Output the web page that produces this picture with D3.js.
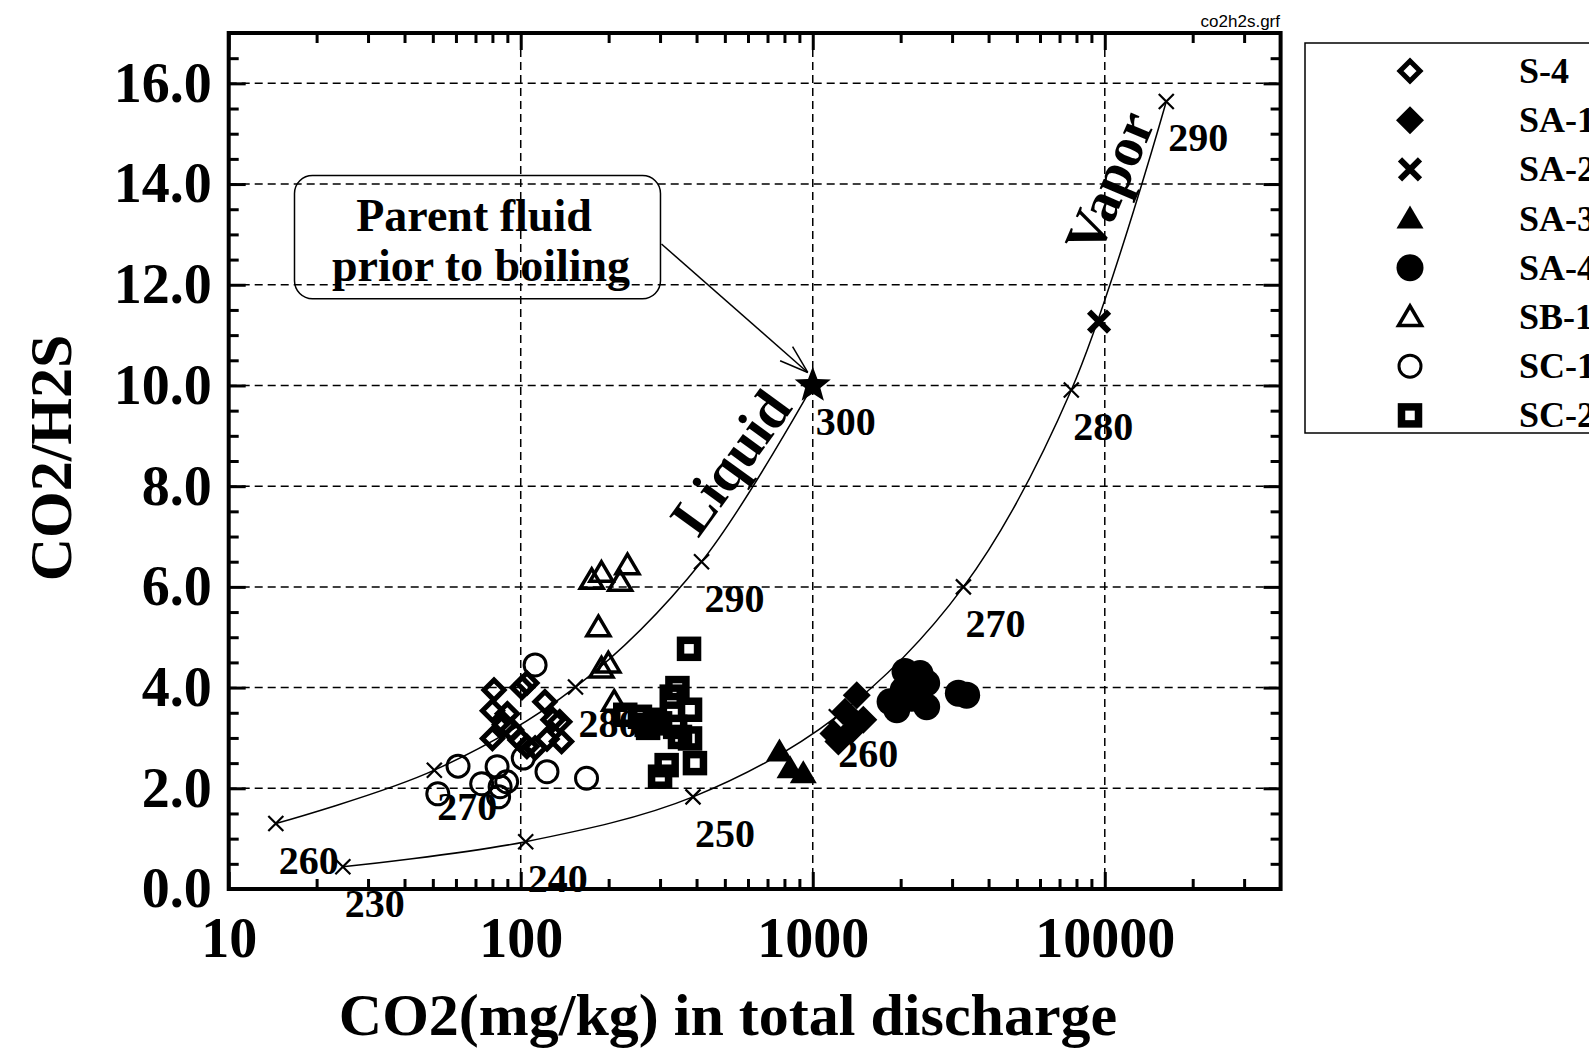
<!DOCTYPE html>
<html>
<head>
<meta charset="utf-8">
<script src="https://cdn.jsdelivr.net/npm/d3@7"></script>
<style>
body { margin: 0; background: #fff; }
svg text { font-family: "Liberation Serif", "Times New Roman", serif; font-weight: bold; fill: #000; }
</style>
</head>
<body>
<svg id="chart" width="1589" height="1048"></svg>
<script>
// sample series: CO2 (mg/kg) and CO2/H2S
var s4Co2 = [81, 80, 90, 80, 88, 99.5, 105, 121, 129, 136, 123, 138, 105, 101, 93, 112];
var s4Ratio = [3.95, 3.54, 3.48, 2.99, 3.26, 2.96, 2.83, 3.72, 3.36, 3.32, 2.98, 2.93, 4.09, 4.0, 3.16, 2.80];
var sa1Co2 = [1415, 1290, 1490, 1177, 1224, 1360];
var sa1Ratio = [3.85, 3.52, 3.36, 3.09, 2.93, 3.16];
var sa2Co2 = [9560];
var sa2Ratio = [11.27];
var sa3Co2 = [769, 836, 928];
var sa3Ratio = [2.73, 2.40, 2.30];
var sa4Co2 = [2070, 2330, 2455, 2040, 1840, 1940, 2455, 3152, 3365, 2183];
var sa4Ratio = [4.32, 4.28, 4.09, 3.95, 3.72, 3.56, 3.62, 3.89, 3.85, 3.79];
var sb1Co2 = [175, 189, 219, 232, 184.5, 189, 199.5, 209];
var sb1Ratio = [6.14, 6.28, 6.10, 6.43, 5.20, 4.38, 4.48, 3.72];
var sc1Co2 = [112, 61, 52, 83, 73.5, 89.5, 84, 102, 123, 168, 85];
var sc1Ratio = [4.45, 2.44, 1.89, 2.43, 2.09, 2.13, 1.83, 2.60, 2.33, 2.20, 2.03];
var sc2Co2 = [377, 344, 380, 338, 300, 270, 380, 316, 300, 395, 351, 329, 228, 256, 288, 273];
var sc2Ratio = [4.77, 3.99, 3.56, 3.22, 3.29, 3.26, 2.99, 2.46, 2.23, 2.50, 3.02, 3.82, 3.46, 3.42, 3.36, 3.20];

// boiling model curves (temperature marks)
var liquidTemp = [260, 270, 280, 290, 300];
var liquidCo2 = [14.5, 50.6, 154, 416, 1000];
var liquidRatio = [1.30, 2.36, 4.01, 6.50, 10.0];
var vaporTemp = [230, 240, 250, 260, 270, 280, 290];
var vaporCo2 = [24.6, 104, 389, 1204, 3280, 7680, 16240];
var vaporRatio = [0.44, 0.94, 1.83, 3.42, 6.00, 9.91, 15.64];

// parent fluid
var parentCo2 = 1000;
var parentRatio = 10.0;

var legendNames = ["S-4", "SA-1", "SA-2", "SA-3", "SA-4", "SB-1", "SC-1", "SC-2"];
var xTickValues = [10, 100, 1000, 10000];
var yTickValues = [0, 2, 4, 6, 8, 10, 12, 14, 16];

var svg = d3.select("#chart");

var x = d3.scaleLog().domain([10, 40000]).range([228.7, 1280.6]);
var y = d3.scaleLinear().domain([0, 17]).range([889, 33]);

// grid lines
svg.append("g").selectAll("line")
    .data(yTickValues.slice(1))
    .enter().append("line")
    .attr("x1", x(10)).attr("x2", x(40000))
    .attr("y1", d => y(d)).attr("y2", d => y(d))
    .attr("stroke", "#000").attr("stroke-width", 1.5)
    .attr("stroke-dasharray", "8,5");
svg.append("g").selectAll("line")
    .data(xTickValues.slice(1))
    .enter().append("line")
    .attr("x1", d => x(d)).attr("x2", d => x(d))
    .attr("y1", y(0)).attr("y2", y(17))
    .attr("stroke", "#000").attr("stroke-width", 1.5)
    .attr("stroke-dasharray", "8,5");

// model curves
var line = d3.line().curve(d3.curveCatmullRom.alpha(0.5));
function curvePoints(xs, ys) {
    return xs.map((v, i) => [x(v), y(ys[i])]);
}
svg.append("path")
    .attr("d", line(curvePoints(liquidCo2, liquidRatio)))
    .attr("fill", "none").attr("stroke", "#000").attr("stroke-width", 1.5);
svg.append("path")
    .attr("d", line(curvePoints(vaporCo2, vaporRatio)))
    .attr("fill", "none").attr("stroke", "#000").attr("stroke-width", 1.5);

function smallCross(g, cx, cy) {
    g.append("path")
        .attr("d", "M" + (cx - 7.5) + "," + (cy - 7.5) + "L" + (cx + 7.5) + "," + (cy + 7.5) +
                   "M" + (cx - 7.5) + "," + (cy + 7.5) + "L" + (cx + 7.5) + "," + (cy - 7.5))
        .attr("stroke", "#000").attr("stroke-width", 2.2).attr("fill", "none");
}

var marks = svg.append("g");
liquidTemp.forEach(function(t, i) {
    var px = x(liquidCo2[i]), py = y(liquidRatio[i]);
    if (t !== 300) smallCross(marks, px, py);
    marks.append("text").attr("x", px + 3).attr("y", py + 50)
        .attr("font-size", 40).text(t);
});
vaporTemp.forEach(function(t, i) {
    var px = x(vaporCo2[i]), py = y(vaporRatio[i]);
    smallCross(marks, px, py);
    marks.append("text").attr("x", px + 2).attr("y", py + 50)
        .attr("font-size", 40).text(t);
});

// curve names
svg.append("text")
    .attr("transform", "translate(730,462) rotate(-54)")
    .attr("text-anchor", "middle").attr("dy", "0.35em")
    .attr("font-size", 56).text("Liquid");
svg.append("text")
    .attr("transform", "translate(1109,182) rotate(-67)")
    .attr("text-anchor", "middle").attr("dy", "0.35em")
    .attr("font-size", 56).text("Vapor");

// annotation box
var boxX0 = x(16.8), boxX1 = x(301), boxY0 = y(14.17), boxY1 = y(11.72);
svg.append("rect")
    .attr("x", boxX0).attr("y", boxY0)
    .attr("width", boxX1 - boxX0).attr("height", boxY1 - boxY0)
    .attr("rx", 18).attr("ry", 18)
    .attr("fill", "none").attr("stroke", "#000").attr("stroke-width", 1.5);
svg.append("text").attr("x", 474).attr("y", 231).attr("text-anchor", "middle")
    .attr("font-size", 46).text("Parent fluid");
svg.append("text").attr("x", 481).attr("y", 281).attr("text-anchor", "middle")
    .attr("font-size", 46).text("prior to boiling");

// arrow to parent fluid
var tipX = x(parentCo2) - 5, tipY = y(parentRatio) - 13;
var startX = boxX1 + 1, startY = 244;
svg.append("line")
    .attr("x1", startX).attr("y1", startY).attr("x2", tipX).attr("y2", tipY)
    .attr("stroke", "#000").attr("stroke-width", 1.5);
var ang = Math.atan2(tipY - startY, tipX - startX);
[ang + Math.PI - 0.32, ang + Math.PI + 0.32].forEach(function(a) {
    svg.append("line")
        .attr("x1", tipX).attr("y1", tipY)
        .attr("x2", tipX + 30 * Math.cos(a)).attr("y2", tipY + 30 * Math.sin(a))
        .attr("stroke", "#000").attr("stroke-width", 1.5);
});

// marker shapes
function drawMarker(g, type, cx, cy) {
    if (type === "openDiamond") {
        g.append("path").attr("d", "M" + cx + "," + (cy - 10) + "L" + (cx + 10) + "," + cy +
            "L" + cx + "," + (cy + 10) + "L" + (cx - 10) + "," + cy + "Z")
            .attr("fill", "none").attr("stroke", "#000").attr("stroke-width", 5);
    } else if (type === "filledDiamond") {
        g.append("path").attr("d", "M" + cx + "," + (cy - 14) + "L" + (cx + 14) + "," + cy +
            "L" + cx + "," + (cy + 14) + "L" + (cx - 14) + "," + cy + "Z")
            .attr("fill", "#000");
    } else if (type === "bigCross") {
        g.append("path").attr("d", "M" + (cx - 10) + "," + (cy - 10) + "L" + (cx + 10) + "," + (cy + 10) +
            "M" + (cx - 10) + "," + (cy + 10) + "L" + (cx + 10) + "," + (cy - 10))
            .attr("stroke", "#000").attr("stroke-width", 6).attr("fill", "none");
    } else if (type === "filledTriangle") {
        g.append("path").attr("d", "M" + cx + "," + (cy - 13) + "L" + (cx + 13.5) + "," + (cy + 10) +
            "L" + (cx - 13.5) + "," + (cy + 10) + "Z")
            .attr("fill", "#000");
    } else if (type === "filledCircle") {
        g.append("circle").attr("cx", cx).attr("cy", cy).attr("r", 13.5).attr("fill", "#000");
    } else if (type === "openTriangle") {
        g.append("path").attr("d", "M" + cx + "," + (cy - 11) + "L" + (cx + 11.5) + "," + (cy + 8.5) +
            "L" + (cx - 11.5) + "," + (cy + 8.5) + "Z")
            .attr("fill", "none").attr("stroke", "#000").attr("stroke-width", 3.5);
    } else if (type === "openCircle") {
        g.append("circle").attr("cx", cx).attr("cy", cy).attr("r", 11)
            .attr("fill", "none").attr("stroke", "#000").attr("stroke-width", 3);
    } else if (type === "openSquare") {
        g.append("rect").attr("x", cx - 8.5).attr("y", cy - 8.5).attr("width", 17).attr("height", 17)
            .attr("fill", "none").attr("stroke", "#000").attr("stroke-width", 7.5);
    }
}

var series = [
    { xs: s4Co2, ys: s4Ratio, type: "openDiamond" },
    { xs: sa1Co2, ys: sa1Ratio, type: "filledDiamond" },
    { xs: sa2Co2, ys: sa2Ratio, type: "bigCross" },
    { xs: sa3Co2, ys: sa3Ratio, type: "filledTriangle" },
    { xs: sa4Co2, ys: sa4Ratio, type: "filledCircle" },
    { xs: sb1Co2, ys: sb1Ratio, type: "openTriangle" },
    { xs: sc1Co2, ys: sc1Ratio, type: "openCircle" },
    { xs: sc2Co2, ys: sc2Ratio, type: "openSquare" }
];

var pts = svg.append("g");
series.forEach(function(s) {
    s.xs.forEach(function(v, i) {
        drawMarker(pts, s.type, x(v), y(s.ys[i]));
    });
});

// parent fluid star
var starR = 19, starr = 8;
var starPts = d3.range(10).map(function(i) {
    var r = i % 2 === 0 ? starR : starr;
    var a = -Math.PI / 2 + i * Math.PI / 5;
    return [x(parentCo2) + r * Math.cos(a), y(parentRatio) + r * Math.sin(a)];
});
svg.append("path").attr("d", "M" + starPts.join("L") + "Z").attr("fill", "#000");

// axes: ticks inward, labels outside
var minorX = [];
xTickValues.forEach(function(d) {
    for (var k = 2; k <= 9; k++) if (d * k < 40000) minorX.push(d * k);
});
var minorY = d3.range(0.5, 17, 0.5).filter(d => d % 2 !== 0);

function styleAxis(g) {
    g.select(".domain").remove();
    g.selectAll(".tick line").attr("stroke", "#000").attr("stroke-width", 3);
}

svg.append("g").attr("transform", "translate(0," + y(0) + ")")
    .call(d3.axisBottom(x).tickValues(minorX).tickSize(-10).tickFormat(""))
    .call(styleAxis);
svg.append("g").attr("transform", "translate(0," + y(0) + ")")
    .call(d3.axisBottom(x).tickValues(xTickValues).tickSize(-17).tickPadding(28).tickFormat(d3.format("d")))
    .call(styleAxis)
    .call(g => g.selectAll("text").attr("font-size", 56)
        .style("font-family", "'Liberation Serif', 'Times New Roman', serif").style("font-weight", "bold"));
svg.append("g").attr("transform", "translate(0," + y(17) + ")")
    .call(d3.axisTop(x).tickValues(minorX).tickSize(-10).tickFormat(""))
    .call(styleAxis);
svg.append("g").attr("transform", "translate(0," + y(17) + ")")
    .call(d3.axisTop(x).tickValues(xTickValues).tickSize(-17).tickFormat(""))
    .call(styleAxis);

svg.append("g").attr("transform", "translate(" + x(10) + ",0)")
    .call(d3.axisLeft(y).tickValues(minorY).tickSize(-10).tickFormat(""))
    .call(styleAxis);
svg.append("g").attr("transform", "translate(" + x(10) + ",0)")
    .call(d3.axisLeft(y).tickValues(yTickValues).tickSize(-17).tickPadding(17).tickFormat(d3.format(".1f")))
    .call(styleAxis)
    .call(g => g.selectAll("text").attr("font-size", 56)
        .style("font-family", "'Liberation Serif', 'Times New Roman', serif").style("font-weight", "bold"));
svg.append("g").attr("transform", "translate(" + x(40000) + ",0)")
    .call(d3.axisRight(y).tickValues(minorY).tickSize(-10).tickFormat(""))
    .call(styleAxis);
svg.append("g").attr("transform", "translate(" + x(40000) + ",0)")
    .call(d3.axisRight(y).tickValues(yTickValues).tickSize(-17).tickFormat(""))
    .call(styleAxis);

// frame
svg.append("rect")
    .attr("x", x(10)).attr("y", y(17))
    .attr("width", x(40000) - x(10)).attr("height", y(0) - y(17))
    .attr("fill", "none").attr("stroke", "#000").attr("stroke-width", 4);

// axis titles
svg.append("text")
    .attr("x", 728).attr("y", 1035)
    .attr("text-anchor", "middle").attr("font-size", 60)
    .text("CO2(mg/kg) in total discharge");
svg.append("text")
    .attr("transform", "translate(71,458) rotate(-90)")
    .attr("text-anchor", "middle").attr("font-size", 60)
    .text("CO2/H2S");

// file tag
svg.append("text")
    .attr("x", 1280).attr("y", 27).attr("text-anchor", "end")
    .style("font-family", "'Liberation Sans', Arial, sans-serif").style("font-weight", "normal")
    .attr("font-size", 17).text("co2h2s.grf");

// legend
var legend = svg.append("g");
legend.append("rect")
    .attr("x", 1305).attr("y", 43).attr("width", 400).attr("height", 390)
    .attr("fill", "none").attr("stroke", "#000").attr("stroke-width", 1.5);
legendNames.forEach(function(name, i) {
    var ry = 71 + i * 49.2;
    drawMarker(legend, series[i].type, 1410, ry);
    legend.append("text").attr("x", 1519).attr("y", ry + 12)
        .attr("font-size", 36).text(name);
});
</script>
</body>
</html>
